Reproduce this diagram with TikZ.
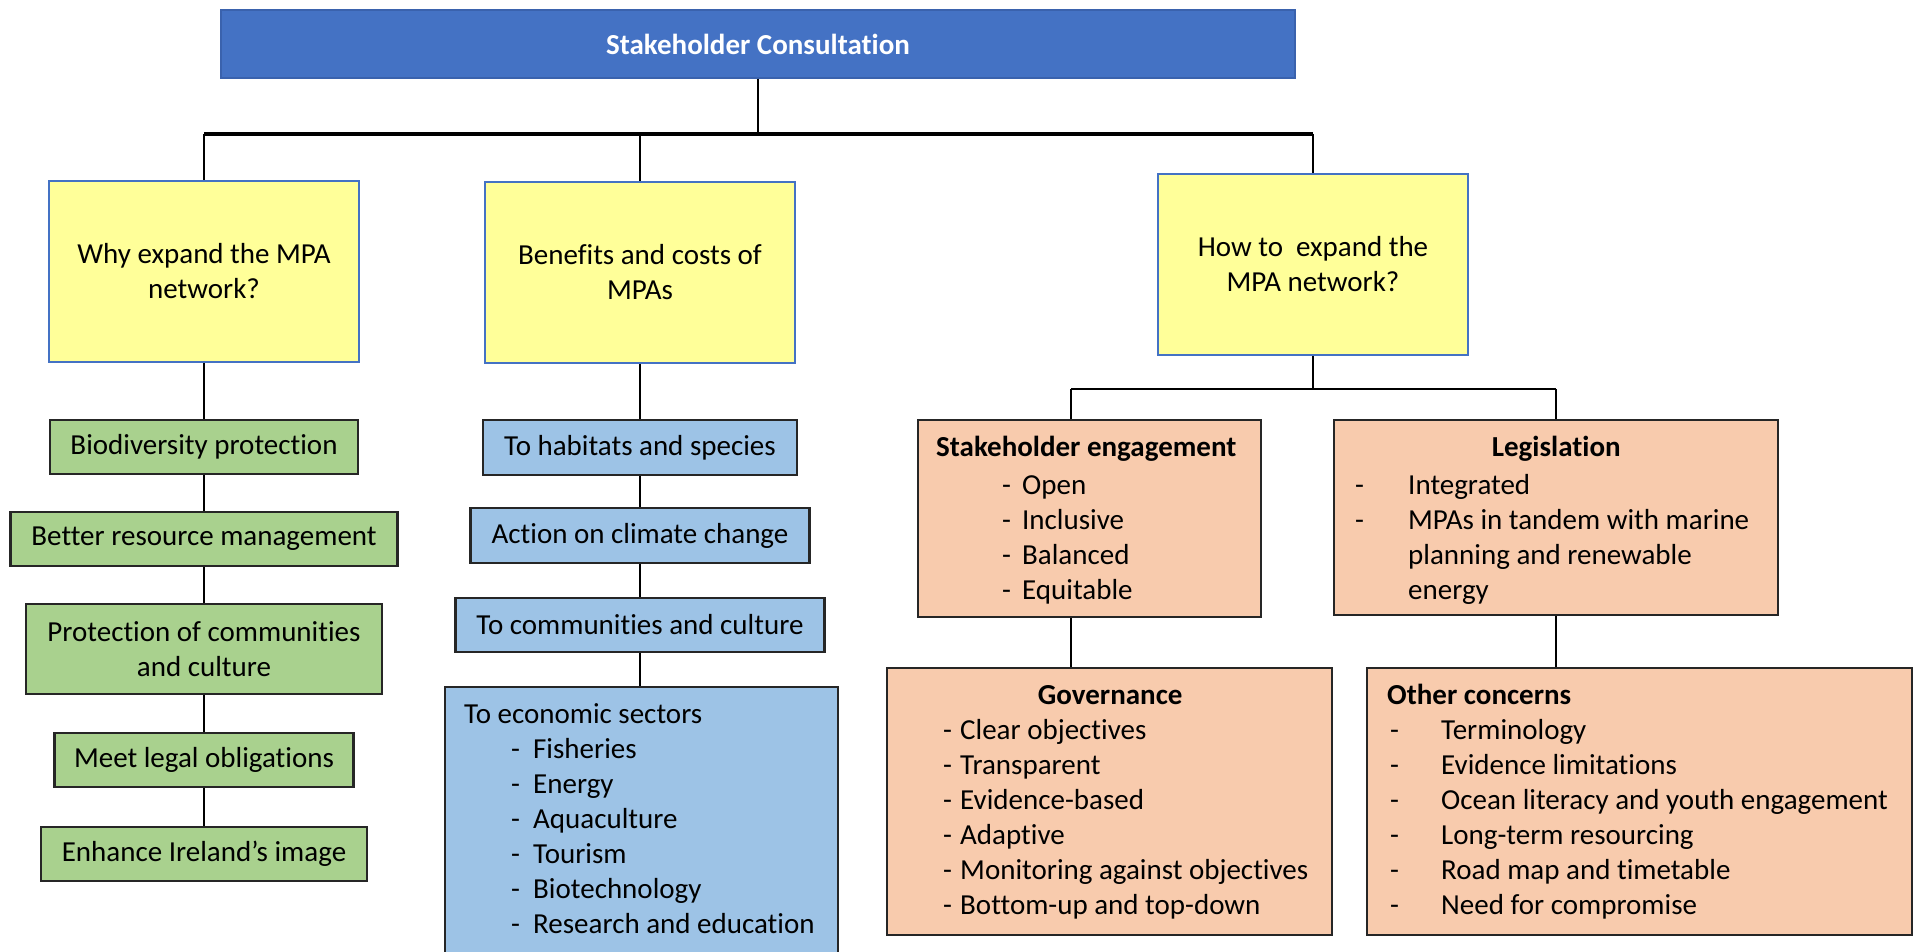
\documentclass[tikz,border=0pt]{standalone}
\usepackage{fontspec}
\setmainfont{Carlito}[Ligatures=NoCommon]
\definecolor{topblue}{HTML}{4472C4}
\definecolor{topedge}{HTML}{3A62AD}
\definecolor{qfill}{HTML}{FFFF99}
\definecolor{gfill}{HTML}{A9D18E}
\definecolor{bfill}{HTML}{9DC3E6}
\definecolor{ofill}{HTML}{F8CBAD}
\definecolor{edge}{HTML}{262626}
\newcommand\dsh[1]{\makebox[#1][l]{-}}
\begin{document}
\begin{tikzpicture}[x=1pt,y=-1pt,
  font=\fontsize{29}{35}\selectfont,
  topbox/.style={draw=topedge, fill=topblue, line width=1.5pt, inner sep=0, text=white, font=\fontsize{29}{35}\selectfont\bfseries},
  qbox/.style={draw=topblue, fill=qfill, line width=1.5pt, inner sep=0, align=center, minimum width=310, minimum height=181},
  gbox/.style={draw=edge, fill=gfill, line width=2.5pt, inner sep=0, align=center},
  bbox/.style={draw=edge, fill=bfill, line width=2.5pt, inner sep=0, align=center},
  obox/.style={draw=edge, fill=ofill, line width=2.5pt, inner sep=0},
  txt/.style={anchor=north west, inner sep=0, align=left},
  link/.style={draw=black, line width=2.5pt},
  barline/.style={draw=black, line width=4pt}]
\useasboundingbox (0,0) rectangle (1914,952);

% top
\node[topbox, minimum width=1074, minimum height=68] (top) at (758,44) {Stakeholder Consultation};

% questions
\node[qbox] (Y1) at (204,271.5) {Why expand the MPA\\network?};
\node[qbox] (Y2) at (640,272.5) {Benefits and costs of\\MPAs};
\node[qbox] (Y3) at (1313,264.5) {How to~ expand the\\MPA network?};

% green column
\node[gbox, minimum width=308, minimum height=54] (G1) at (204,447) {Biodiversity protection};
\node[gbox, minimum width=387, minimum height=54] (G2) at (204,539) {Better resource management};
\node[gbox, minimum width=356, minimum height=90] (G3) at (204,649) {Protection of communities\\and culture};
\node[gbox, minimum width=299, minimum height=54] (G4) at (204,760) {Meet legal obligations};
\node[gbox, minimum width=326, minimum height=54] (G5) at (204,854) {Enhance Ireland’s image};

% blue column
\node[bbox, minimum width=314, minimum height=55] (B1) at (640,447.5) {To habitats and species};
\node[bbox, minimum width=339, minimum height=55] (B2) at (640,535.5) {Action on climate change};
\node[bbox, minimum width=369, minimum height=54] (B3) at (640,625) {To communities and culture};
\node[bbox, minimum width=393, minimum height=273] (B4) at (641.5,823.5) {};
\node[txt] (B4t) at (464,698.5) {\strut To economic sectors\\
\strut\hspace*{47pt}\dsh{22pt}Fisheries\\
\strut\hspace*{47pt}\dsh{22pt}Energy\\
\strut\hspace*{47pt}\dsh{22pt}Aquaculture\\
\strut\hspace*{47pt}\dsh{22pt}Tourism\\
\strut\hspace*{47pt}\dsh{22pt}Biotechnology\\
\strut\hspace*{47pt}\dsh{22pt}Research and education};

% orange boxes
\node[obox, minimum width=343, minimum height=197] (SE) at (1089.5,518.5) {};
\node[obox, minimum width=444, minimum height=195] (LEG) at (1556,517.5) {};
\node[obox, minimum width=445, minimum height=267] (GOV) at (1109.5,801.5) {};
\node[obox, minimum width=545, minimum height=267] (OTH) at (1639.5,801.5) {};

\node[txt] (SEt) at (936,431.5) {\strut\textbf{Stakeholder engagement}\\[3pt]
\strut\hspace*{66pt}\dsh{20pt}Open\\
\strut\hspace*{66pt}\dsh{20pt}Inclusive\\
\strut\hspace*{66pt}\dsh{20pt}Balanced\\
\strut\hspace*{66pt}\dsh{20pt}Equitable};
\node[txt] (LEGt) at (1355,431.5) {\strut\makebox[402pt][c]{\bfseries Legislation}\\[3pt]
\strut\dsh{53pt}Integrated\\
\strut\dsh{53pt}MPAs in tandem with marine\\
\strut\hspace*{53pt}planning and renewable\\
\strut\hspace*{53pt}energy};
\node[txt] (GOVt) at (943,679.5) {\strut\makebox[334pt][c]{\bfseries Governance}\\
\strut\dsh{17pt}Clear objectives\\
\strut\dsh{17pt}Transparent\\
\strut\dsh{17pt}Evidence-based\\
\strut\dsh{17pt}Adaptive\\
\strut\dsh{17pt}Monitoring against objectives\\
\strut\dsh{17pt}Bottom-up and top-down};
\node[txt] (OTHt) at (1387,679.5) {\strut\textbf{Other concerns}\\
\strut\hspace*{3pt}\dsh{51pt}Terminology\\
\strut\hspace*{3pt}\dsh{51pt}Evidence limitations\\
\strut\hspace*{3pt}\dsh{51pt}Ocean literacy and youth engagement\\
\strut\hspace*{3pt}\dsh{51pt}Long-term resourcing\\
\strut\hspace*{3pt}\dsh{51pt}Road map and timetable\\
\strut\hspace*{3pt}\dsh{51pt}Need for compromise};

% connectors top level
\coordinate (b0) at (758,134);
\coordinate (bL) at (204,134);
\coordinate (bR) at (1313,134);
\draw[link] (top.south) -- (b0);
\draw[link] (bL) -- (Y1.north);
\draw[link] (Y2.north |- b0) -- (Y2.north);
\draw[link] (bR) -- (Y3.north);
\draw[barline] (bL) -- (bR);

% columns
\draw[link] (Y1.south) -- (G1.north);
\draw[link] (G1.south) -- (G2.north);
\draw[link] (G2.south) -- (G3.north);
\draw[link] (G3.south) -- (G4.north);
\draw[link] (G4.south) -- (G5.north);
\draw[link] (Y2.south) -- (B1.north);
\draw[link] (B1.south) -- (B2.north);
\draw[link] (B2.south) -- (B3.north);
\draw[link] (B3.south) -- (B3.south |- B4.north);

% right branch
\coordinate (j) at (1313,389);
\coordinate (jL) at (1071,389);
\coordinate (jR) at (1556,389);
\draw[link] (Y3.south) -- (j);
\draw[link] (jL) -- (jR);
\draw[link] (jL) -- (jL |- SE.north);
\draw[link] (jR) -- (LEG.north);
\draw[link] (jL |- SE.south) -- (jL |- GOV.north);
\draw[link] (LEG.south) -- (LEG.south |- OTH.north);
\end{tikzpicture}
\end{document}
